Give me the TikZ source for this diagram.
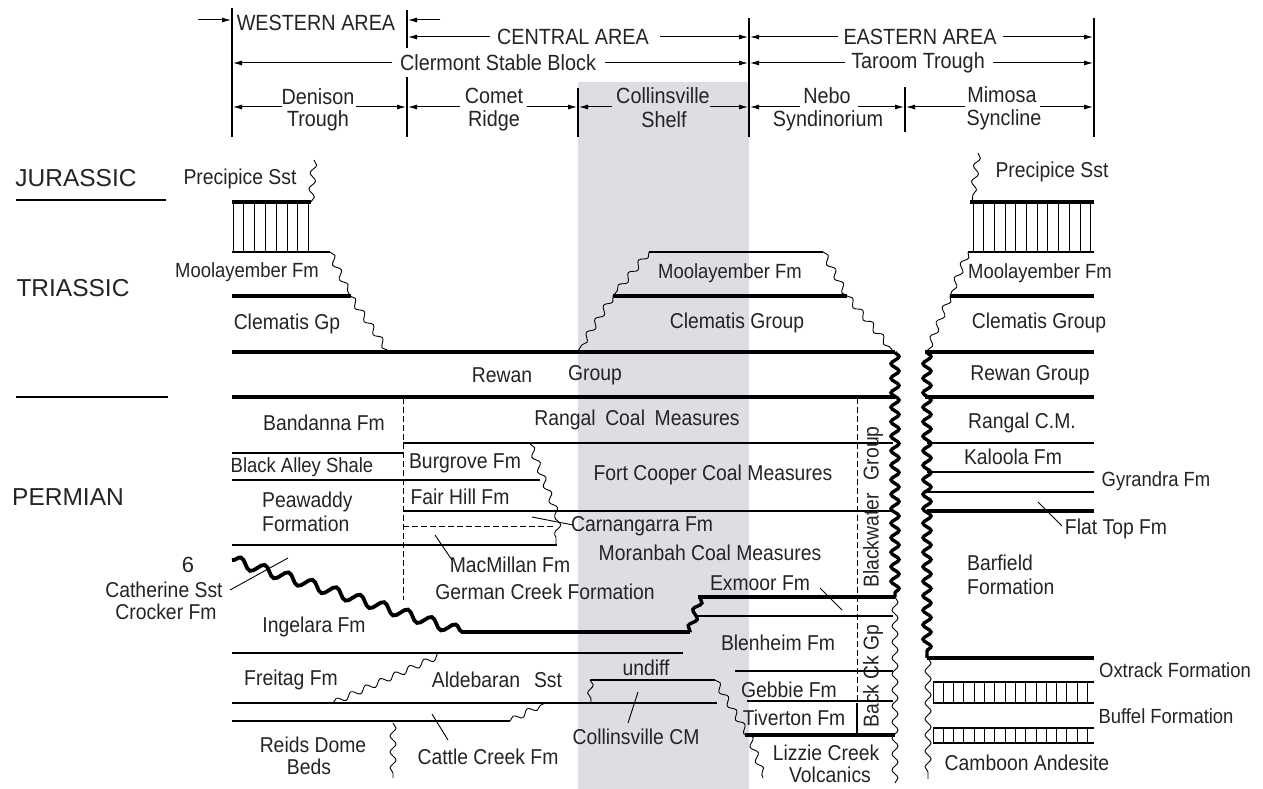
\documentclass[tikz,border=0pt]{standalone}
\usepackage{fontspec}
\setmainfont{Liberation Sans}
\newfontfamily\nar{Liberation Sans}[FakeStretch=0.9]
\usetikzlibrary{decorations.pathmorphing,arrows.meta}
\definecolor{shelf}{RGB}{221,222,225}
\definecolor{ink}{RGB}{35,35,40}
\begin{document}
\begin{tikzpicture}[x=1pt,y=-1pt,
  lb/.style={font=\nar\fontsize{21.5}{24}\selectfont, text=ink, inner sep=0pt},
  hd/.style={font=\nar\fontsize{22}{24}\selectfont, text=ink, inner sep=0pt},
  per/.style={font=\fontsize{24.5}{26}\selectfont, text=ink, inner sep=0pt},
  sm/.style={font=\nar\fontsize{20.5}{23}\selectfont, text=ink, inner sep=0pt},
  thk/.style={line width=4.5pt},
  thn/.style={line width=1.2pt},
  htc/.style={line width=1pt},
  ldr/.style={line width=0.9pt},
  dsh/.style={line width=0.9pt, dash pattern=on 6pt off 3pt},
  wv/.style={line width=0.9pt, decorate, decoration={snake, amplitude=3pt, segment length=16pt}},
  bwv/.style={line width=3.4pt, decorate, decoration={snake, amplitude=4pt, segment length=14.5pt}},
  swv/.style={line width=3.4pt, decorate, decoration={snake, amplitude=3.5pt, segment length=17pt}},
  dwv/.style={line width=3.8pt, decorate, decoration={snake, amplitude=5pt, segment length=25pt}},
  ar/.style={line width=1pt, -{Latex[length=9pt,width=5pt]}}
]
\useasboundingbox (0,0) rectangle (1263,789);
\fill[shelf] (578,82) rectangle (749,789);

% ---------------- header ----------------
\draw[thn] (232,8) -- (232,137);
\draw[thn] (407,10) -- (407,48);
\draw[thn] (407,77) -- (407,137);
\draw[thn] (578,88) -- (578,137);
\draw[thn] (749,18) -- (749,137);
\draw[thn] (905,87) -- (905,132);
\draw[thn] (1094,18) -- (1094,137);

\node[hd] (wa) at (316,23) {WESTERN AREA};
\draw[ar] (198,20) -- (231,20);
\draw[ar] (440,20) -- (408,20);
\node[hd] (ca) at (573,37) {CENTRAL AREA};
\draw[ar] (490,37) -- (408,37);
\draw[ar] (660,37) -- (748,37);
\node[hd] (ea) at (920,37) {EASTERN AREA};
\draw[ar] (838,37) -- (750,37);
\draw[ar] (1003,37) -- (1093,37);
\node[hd] (csb) at (498,63) {Clermont Stable Block};
\draw[ar] (392,63) -- (233,63);
\draw[ar] (605,63) -- (748,63);
\node[hd] (tt) at (918,63) {Taroom Trough};
\draw[ar] (845,63) -- (750,63);
\draw[ar] (993,63) -- (1093,63);

\node[hd] (den1) at (318,97) {Denison};
\node[hd] (den2) at (318,121) {Trough};
\draw[ar] (282,107) -- (233,107);
\draw[ar] (356,107) -- (406,107);
\node[hd] (com1) at (494,96) {Comet};
\node[hd] (com2) at (494,121) {Ridge};
\draw[ar] (460,107) -- (408,107);
\draw[ar] (527,107) -- (577,107);
\node[hd] (col1) at (663,96) {Collinsville};
\node[hd] (col2) at (664,120) {Shelf};
\draw[ar] (612,107) -- (579,107);
\draw[ar] (710,107) -- (748,107);
\node[hd] (neb1) at (827,96) {Nebo};
\node[hd] (neb2) at (828,121) {Syndinorium};
\draw[ar] (800,107) -- (750,107);
\draw[ar] (858,107) -- (904,107);
\node[hd] (mim1) at (1002,95) {Mimosa};
\node[hd] (mim2) at (1004,120) {Syncline};
\draw[ar] (965,107) -- (906,107);
\draw[ar] (1040,107) -- (1093,107);

% ---------------- periods ----------------
\node[per] (jur) at (76,178) {JURASSIC};
\draw[thn] (16,200) -- (166,200);
\node[per] (tri) at (73,288) {TRIASSIC};
\draw[thn] (16,397) -- (168,397);
\node[per] (perm) at (68,497) {PERMIAN};

% ---------------- western Triassic/Jurassic ----------------
\node[lb] (pw) at (240,179) {Precipice Sst};
\draw[wv] (314,160) -- (311,202);
\draw[thk] (232,202) -- (311,202);
\foreach \i in {0,...,7} \draw[htc] ({233+\i*10.8},204) -- ({233+\i*10.8},251);
\draw[thn] (232,252) -- (330,252);
\node[sm] (mw) at (247,272) {Moolayember Fm};
\draw[wv] (330,252) -- (350,296);
\draw[thk] (232,296) -- (351,296);
\node[lb] (cgw) at (287,324) {Clematis Gp};
\draw[wv] (350,296) -- (388,351);
\draw[thk] (232,352) -- (895,352);
\node[lb] (rw1) at (502,375) {Rewan};
\node[lb] (rw2) at (595,375) {Group};
\draw[thk] (232,397) -- (895,397);

% ---------------- central dome ----------------
\draw[thn] (649,252) -- (823,252);
\node[sm] (mc) at (730,273) {Moolayember Fm};
\draw[wv] (649,252) -- (613,296);
\draw[wv] (823,252) -- (847,296);
\draw[thk] (613,296) -- (847,296);
\node[lb] (cgc) at (737,323) {Clematis Group};
\draw[wv] (613,296) -- (578,351);
\draw[wv] (847,296) -- (893,351);

% ---------------- eastern column ----------------
\draw[wv] (978,153) -- (972,202);
\node[lb] (pe) at (1052,172) {Precipice Sst};
\draw[thk] (970,202) -- (1094,202);
\foreach \i in {0,...,11} \draw[htc] ({973+\i*10.7},204) -- ({973+\i*10.7},251);
\draw[thn] (968,252) -- (1094,252);
\node[sm] (me) at (1040,273) {Moolayember Fm};
\draw[wv] (968,252) -- (950,296);
\draw[thk] (950,296) -- (1094,296);
\node[lb] (cge) at (1039,323) {Clematis Group};
\draw[wv] (950,296) -- (927,352);
\draw[thk] (925,352) -- (1094,352);
\node[lb] (rge) at (1030,375) {Rewan Group};
\draw[thk] (925,397) -- (1094,397);
\node[lb] (rcm) at (1022,423) {Rangal C.M.};
\draw[thn] (927,443) -- (1094,443);
\node[lb] (kal) at (1013,457) {Kaloola Fm};
\draw[thn] (927,472) -- (1094,472);
\draw[thn] (927,492) -- (1094,492);
\node[sm] (gyr) at (1156,481) {Gyrandra Fm};
\draw[thk] (927,511) -- (1094,511);
\node[lb] (flt) at (1116,529) {Flat Top Fm};
\draw[ldr] (1038,502) -- (1062,526);
\node[lb, anchor=west] (bar1) at (967,563) {Barfield};
\node[lb, anchor=west] (bar2) at (967,587) {Formation};
\draw[thk] (927,658) -- (1094,658);
\draw[bwv] (927,352) -- (927,658);
\node[sm] (oxt) at (1175,670) {Oxtrack Formation};
\draw[thn] (933,682) -- (1094,682);
\draw[thn] (933,703) -- (1094,703);
\foreach \i in {0,...,15} \draw[htc] ({933+\i*10.3},682) -- ({933+\i*10.3},703);
\node[sm] (buf) at (1166,716) {Buffel Formation};
\draw[thn] (933,728) -- (1094,728);
\draw[thn] (933,743) -- (1094,743);
\foreach \i in {0,...,15} \draw[htc] ({933+\i*10.3},728) -- ({933+\i*10.3},743);
\node[lb] (cam) at (1027,763) {Camboon Andesite};
\draw[wv] (928,658) -- (928,779);

% ---------------- Permian west & central ----------------
\node[lb] (ban) at (324,423) {Bandanna Fm};
\node[lb] (rang) at (637,420) {Rangal\hspace{0.45em}Coal\hspace{0.45em}Measures};
\draw[dsh] (403,398) -- (403,600);
\draw[thn] (403,443) -- (893,443);
\draw[thn] (232,453) -- (403,453);
\node[sm] (bas) at (302,467) {Black Alley Shale};
\node[lb] (bur) at (465,463) {Burgrove Fm};
\node[lb] (fcc) at (713,475) {Fort Cooper Coal Measures};
\draw[thn] (232,480) -- (540,480);
\node[lb, anchor=west] (pea1) at (262,502) {Peawaddy};
\node[lb, anchor=west] (pea2) at (262,524) {Formation};
\node[lb] (fh) at (460,497) {Fair Hill Fm};
\draw[thn] (403,511) -- (893,511);
\draw[dsh] (403,526) -- (553,526);
\draw[thn] (232,545) -- (557,545);
\draw[wv] (530,444) -- (556,512) -- (556,545);
\node[lb] (carn) at (642,526) {Carnangarra Fm};
\draw[ldr] (532,517) -- (573,525);
\node[lb] (mor) at (710,553) {Moranbah Coal Measures};
\node[lb] (mac) at (510,565) {MacMillan Fm};
\draw[ldr] (435,535) -- (452,560);
\node[lb] (gcf) at (545,592) {German Creek Formation};
\node[lb] (exm) at (760,583) {Exmoor Fm};
\draw[ldr] (820,588) -- (842,610);

\node[font=\fontsize{22}{24}\selectfont, text=ink, inner sep=0pt] (six) at (188,565) {6};
\node[lb] (cat) at (164,590) {Catherine Sst};
\node[lb] (cro) at (166,612) {Crocker Fm};
\draw[ldr] (230,590) -- (288,558);
\node[lb] (ing) at (314,627) {Ingelara Fm};
\draw[dwv] (232,560) -- (463,632);
\draw[thk] (461,632) -- (690,632);
\draw[swv] (700,597) -- (690,632);
\draw[thk] (698,597) -- (895,597);
\draw[bwv] (895,352) -- (895,597);

\node[lb, rotate=90] (bwg) at (873,507) {Blackwater\hspace{0.6em}Group};
\node[lb, rotate=90] (bck) at (873,676) {Back Ck Gp};
\draw[dsh] (857,398) -- (857,703);
\draw[thn] (857,703) -- (857,735);

\draw[thn] (698,616) -- (893,616);
\node[lb] (ble) at (778,643) {Blenheim Fm};
\draw[thn] (232,653) -- (683,653);
\node[lb] (fre) at (291,680) {Freitag Fm};
\draw[wv] (333,703) -- (445,653);
\node[lb] (ald1) at (476,680) {Aldebaran};
\node[lb] (ald2) at (548,680) {Sst};
\node[lb] (und) at (646,668) {undiff};
\draw[thn] (590,680) -- (715,680);
\draw[wv] (590,680) -- (591,702);
\draw[wv] (715,680) -- (748,735) -- (763,778);
\draw[thn] (232,703) -- (717,703);
\draw[thn] (232,721) -- (510,721);
\draw[wv] (510,721) -- (545,703);
\draw[thn] (735,671) -- (893,671);
\node[lb] (geb) at (789,690) {Gebbie Fm};
\draw[thn] (747,701) -- (893,701);
\node[lb] (tiv) at (794,718) {Tiverton Fm};
\draw[thk] (745,735) -- (895,735);
\node[lb] (liz1) at (826,753) {Lizzie Creek};
\node[lb] (liz2) at (830,775) {Volcanics};
\draw[wv] (895,597) -- (895,783);

\node[lb] (rei1) at (313,745) {Reids Dome};
\node[lb] (rei2) at (309,767) {Beds};
\draw[wv] (393,723) -- (393,778);
\node[lb] (cat2) at (488,757) {Cattle Creek Fm};
\draw[ldr] (432,714) -- (448,740);
\node[lb] (ccm) at (636,737) {Collinsville CM};
\draw[ldr] (638,692) -- (628,723);
\end{tikzpicture}
\end{document}
